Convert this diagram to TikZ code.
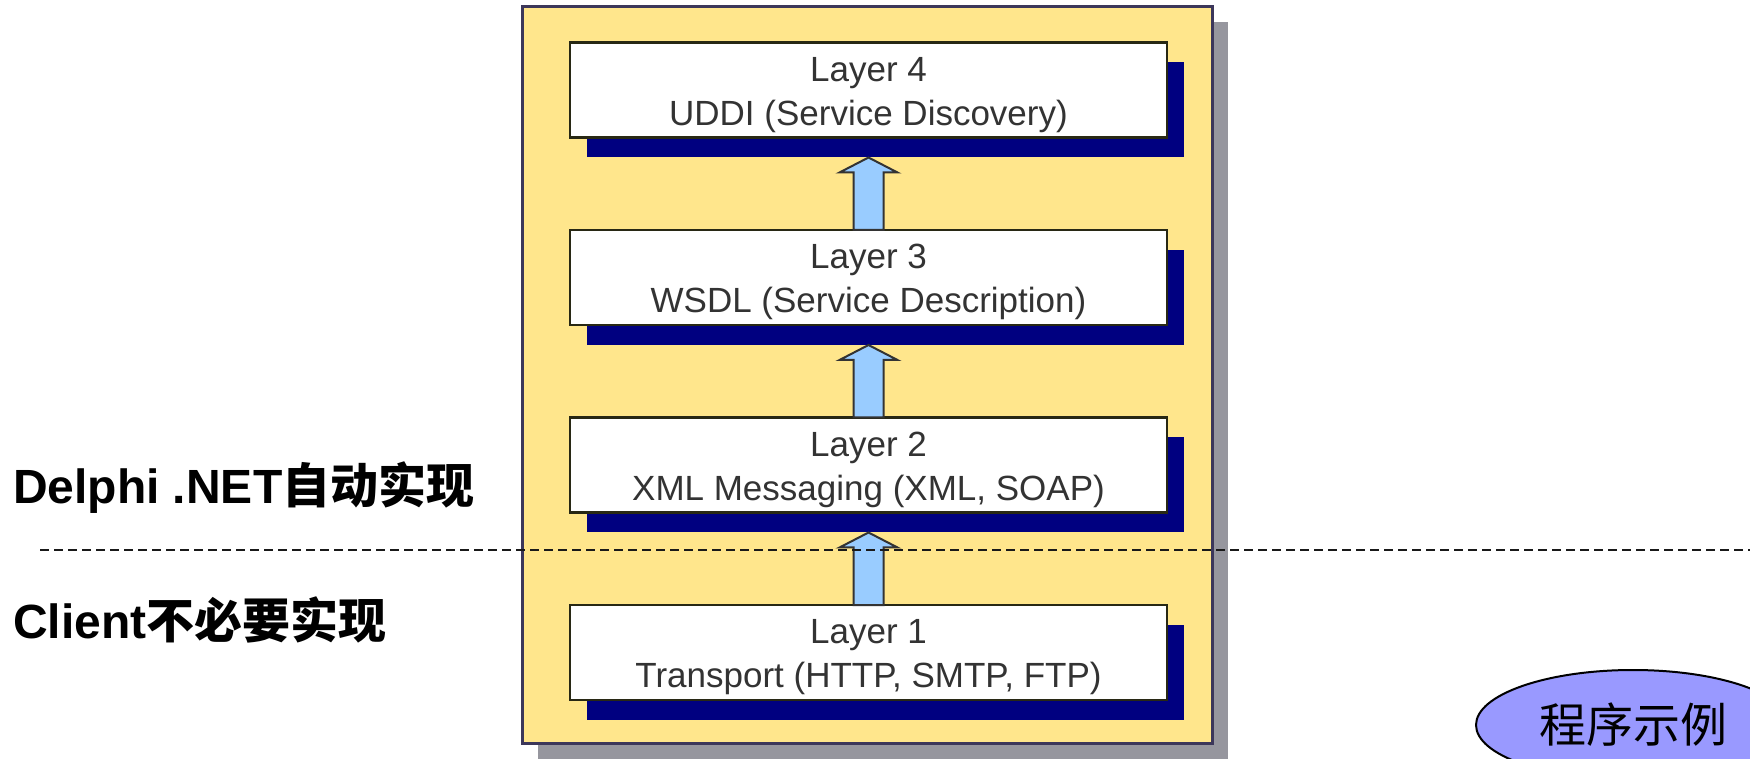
\documentclass[tikz,border=0pt]{standalone}
\usepackage{fontspec}
\setmainfont{Liberation Sans}
\newfontfamily\cjkfont{Noto Sans CJK SC}
\usepackage{tikz}
\usetikzlibrary{calc,positioning,shapes.geometric,shadows}

\definecolor{panelfill}{RGB}{255,230,140}
\definecolor{panelline}{RGB}{60,55,90}
\definecolor{panelshadow}{RGB}{150,150,158}
\definecolor{boxline}{RGB}{40,40,20}
\definecolor{boxshadow}{RGB}{0,0,128}
\definecolor{arrowfill}{RGB}{153,204,255}
\definecolor{demofill}{RGB}{153,153,255}
\newcommand{\lyrstrut}{\rule{0pt}{34pt}}

\begin{document}
\begin{tikzpicture}[x=1pt,y=1pt,inner sep=0pt,outer sep=0pt,
    layer/.style={draw=boxline, line width=2.5pt, fill=white,
        minimum width=597pt, minimum height=95pt, align=center,
        text=black!80, font=\fontsize{35}{44}\selectfont,
        drop shadow={shadow xshift=17pt, shadow yshift=-20pt, fill=boxshadow, opacity=1}},
    uparrow/.style={draw=black!80, line width=2pt, fill=arrowfill, line join=miter},
    side/.style={anchor=base west, font=\fontsize{48}{56}\selectfont\bfseries}]
    \clip (0,0) rectangle (1750,758);

    % yellow panel
    \node[draw=panelline, line width=3pt, fill=panelfill,
        minimum width=690pt, minimum height=737pt,
        drop shadow={shadow xshift=16pt, shadow yshift=-16pt, fill=panelshadow, opacity=1}]
        (panel) at (867,383) {};

    % layers
    \node[layer] (l4) at (868.5,668) {\lyrstrut Layer 4\\UDDI (Service Discovery)};
    \node[layer, below=92.5pt of l4] (l3) {\lyrstrut Layer 3\\WSDL (Service Description)};
    \node[layer, below=92.5pt of l3] (l2) {\lyrstrut Layer 2\\XML Messaging (XML, SOAP)};
    \node[layer, below=92.5pt of l2] (l1) {\lyrstrut Layer 1\\Transport (HTTP, SMTP, FTP)};

    % arrows between layers
    \foreach \lo/\hi in {l1/l2, l2/l3, l3/l4}
        \draw[uparrow] ($(\lo.north)+(-15,0)$) -- ($(\hi.south)+(-15,-35)$)
            -- ($(\hi.south)+(-29,-35)$) -- ($(\hi.south)+(0,-20)$)
            -- ($(\hi.south)+(29,-35)$) -- ($(\hi.south)+(15,-35)$)
            -- ($(\lo.north)+(15,0)$) -- cycle;

    % separation line
    \coordinate (sep_l) at (40,208);
    \coordinate (sep_r) at (1750,208);
    \draw[black!90, line width=1.5pt, dash pattern=on 9pt off 5pt] (sep_l) -- (sep_r);

    % side labels
    \node[side] (auto_lbl) at (13,254) {Delphi .NET{\cjkfont 自动实现}};
    \node[side] (client_lbl) at (13,120) {Client{\cjkfont 不必要实现}};

    % example bubble
    \node[ellipse, draw=black, line width=2pt, fill=demofill,
        minimum width=314pt, minimum height=110pt,
        font=\cjkfont\fontsize{47}{52}\selectfont]
        (demo) at (1633,33) {程序示例};
\end{tikzpicture}
\end{document}
